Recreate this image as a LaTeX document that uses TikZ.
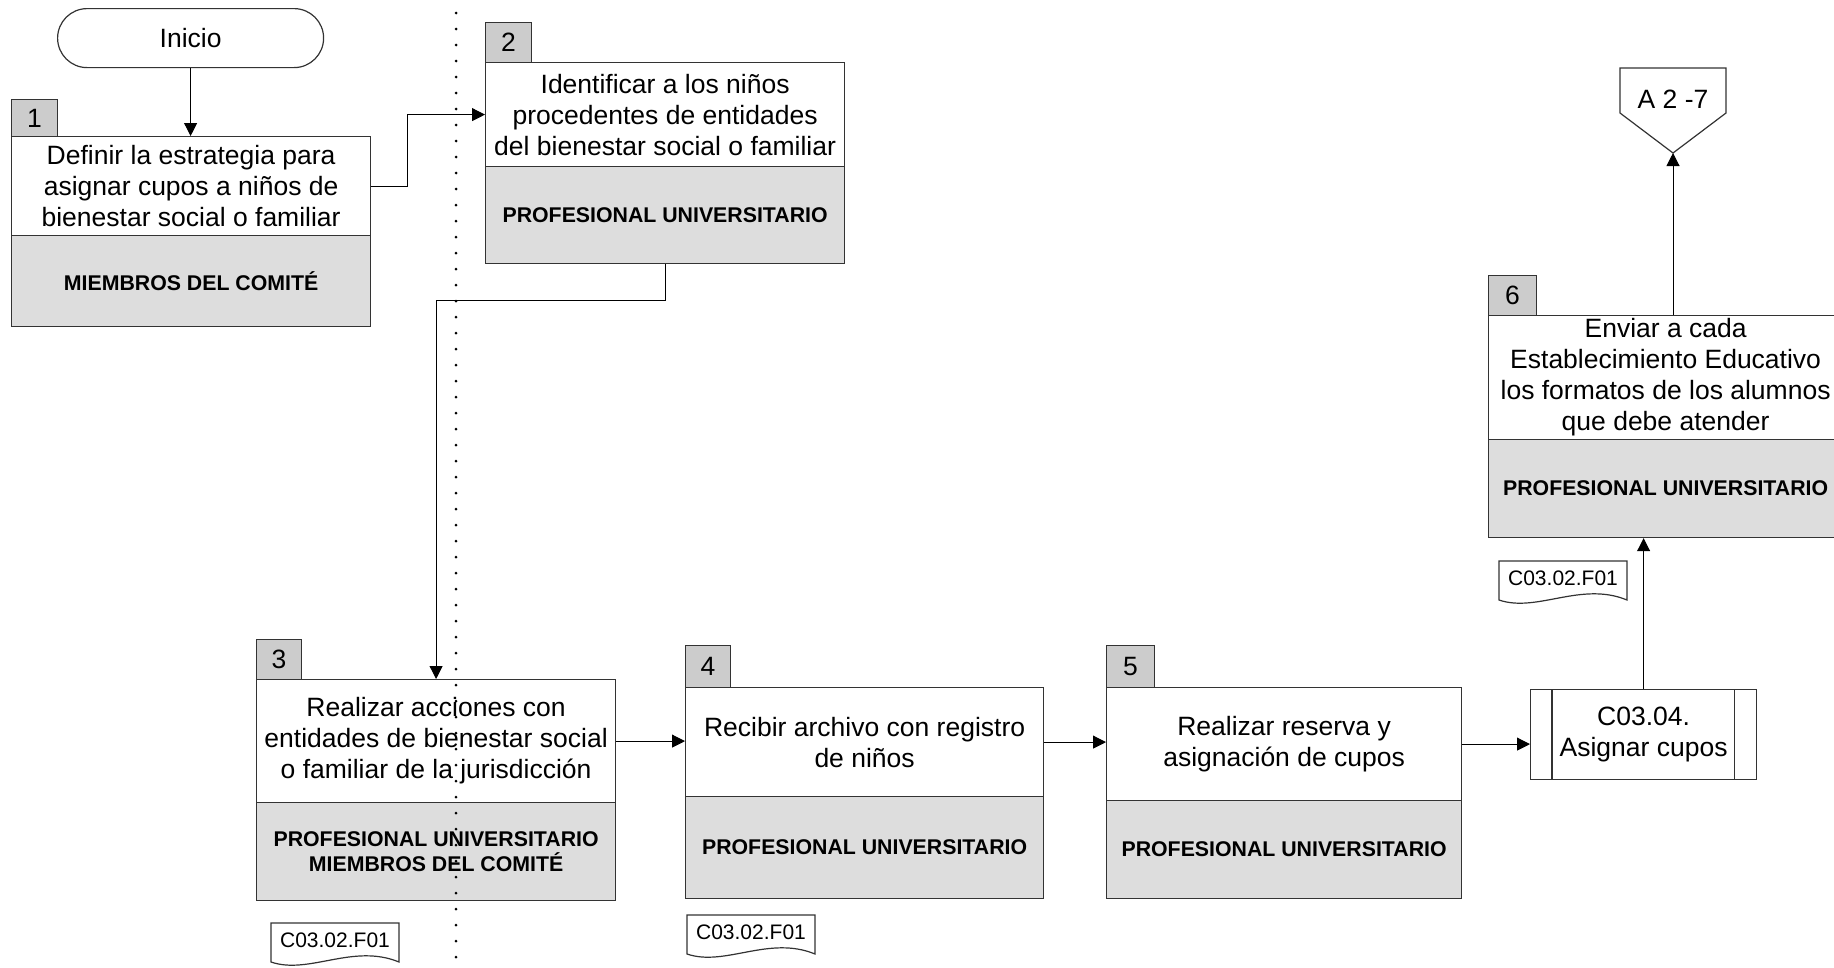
\documentclass[tikz,border=0pt]{standalone}
\usepackage{fontspec}
\setmainfont{Liberation Sans}
\usetikzlibrary{arrows.meta,calc}
\definecolor{tabgray}{HTML}{CCCCCC}
\definecolor{pangray}{HTML}{DDDDDD}
\definecolor{edgegray}{HTML}{333333}
\tikzset{
  txtbox/.style={draw=edgegray, line width=1.2pt, fill=white, inner sep=0pt, anchor=north west, align=center,
                 font=\fontsize{26.5}{31}\selectfont},
  rolebox/.style={txtbox, fill=pangray, font=\bfseries\fontsize{21.3}{25.5}\selectfont},
  tabbox/.style={draw=edgegray, line width=1.2pt, fill=tabgray, inner sep=0pt, anchor=north west,
                 font=\fontsize{26.5}{31}\selectfont},
  flow/.style={draw=black, line width=1pt, -{Triangle[length=13pt,width=13pt]}},
  plain/.style={draw=black, line width=1pt},
  docline/.style={draw=edgegray, line width=1.2pt, fill=white},
  doctext/.style={font=\fontsize{21}{25}\selectfont, inner sep=0pt},
  pics/fmtdoc/.style={code={
    \draw[docline] (0,0) -- (128,0) -- (128,39) .. controls (82,20) and (38,52) .. (0,39) -- cycle;
    \node[doctext] (-txt) at (64,17) {C03.02.F01};
  }}
}
\begin{document}
\begin{tikzpicture}[x=1pt,y=-1pt]
\useasboundingbox (0,0) rectangle (1834,967);

% Inicio
\node[draw=edgegray, line width=1.2pt, rounded corners=29.5pt, minimum width=266pt, minimum height=59pt,
      inner sep=0pt, anchor=north west, font=\fontsize{26.5}{31}\selectfont] (ini) at (57,8) {Inicio};

% Box 1
\node[tabbox, minimum width=46pt, minimum height=37pt] (t1) at (11,99) {1};
\node[txtbox, minimum width=359pt, minimum height=99pt] (b1) at (11,136)
  {Definir la estrategia para\\asignar cupos a niños de\\bienestar social o familiar};
\node[rolebox, minimum width=359pt, minimum height=91pt] (b1r) at (11,235) {MIEMBROS DEL COMITÉ};

% Box 2
\node[tabbox, minimum width=46pt, minimum height=40pt] (t2) at (485,22) {2};
\node[txtbox, minimum width=359pt, minimum height=104pt] (b2) at (485,62)
  {Identificar a los niños\\procedentes de entidades\\del bienestar social o familiar};
\node[rolebox, minimum width=359pt, minimum height=97pt] (b2r) at (485,166) {PROFESIONAL UNIVERSITARIO};

% Box 3
\node[tabbox, minimum width=45pt, minimum height=40pt] (t3) at (256,639) {3};
\node[txtbox, minimum width=359pt, minimum height=123pt] (b3) at (256,679)
  {Realizar acciones con\\entidades de bienestar social\\o familiar de la jurisdicción};
\node[rolebox, minimum width=359pt, minimum height=98pt] (b3r) at (256,802)
  {PROFESIONAL UNIVERSITARIO\\MIEMBROS DEL COMITÉ};

% Box 4
\node[tabbox, minimum width=45pt, minimum height=42pt] (t4) at (685,645) {4};
\node[txtbox, minimum width=358pt, minimum height=109pt] (b4) at (685,687)
  {Recibir archivo con registro\\de niños};
\node[rolebox, minimum width=358pt, minimum height=102pt] (b4r) at (685,796) {PROFESIONAL UNIVERSITARIO};

% Box 5
\node[tabbox, minimum width=48pt, minimum height=42pt] (t5) at (1106,645) {5};
\node[txtbox, minimum width=355pt, minimum height=113pt] (b5) at (1106,687)
  {Realizar reserva y\\asignación de cupos};
\node[rolebox, minimum width=355pt, minimum height=98pt] (b5r) at (1106,800) {PROFESIONAL UNIVERSITARIO};

% Box 6
\node[tabbox, minimum width=48pt, minimum height=40pt] (t6) at (1488,275) {6};
\node[txtbox, minimum width=354pt, minimum height=124pt] (b6) at (1488,315)
  {Enviar a cada\\Establecimiento Educativo\\los formatos de los alumnos\\que debe atender};
\node[rolebox, minimum width=354pt, minimum height=98pt] (b6r) at (1488,439) {PROFESIONAL UNIVERSITARIO};

% Subprocess
\node[txtbox, minimum width=226pt, minimum height=90pt] (sub) at (1530,689) {C03.04.\\Asignar cupos};
\draw[draw=edgegray, line width=1.2pt] ([xshift=22pt]sub.north west) -- ([xshift=22pt]sub.south west);
\draw[draw=edgegray, line width=1.2pt] ([xshift=-23pt]sub.north east) -- ([xshift=-23pt]sub.south east);

% Off-page connector
\draw[draw=edgegray, line width=1.2pt, fill=white] (1620,68) -- (1726,68) -- (1726,113) -- (1673,153) -- (1620,113) -- cycle;
\node[font=\fontsize{26.5}{31}\selectfont, inner sep=0pt] (a27) at (1673,99) {A 2 -7};
\coordinate (a27tip) at (1673,153);

% Documents
\pic (d3) at (271,923) {fmtdoc};
\pic (d4) at (687,915) {fmtdoc};
\pic (d6) at (1499,561) {fmtdoc};

% Connectors
\draw[flow] (ini.south) -- (ini.south |- b1.north);
\draw[flow] (b1.east) -- ++(36,0) |- (b2.west);
\draw[flow] (b2r.south) -- ++(0,36) -| (b3.north);
\draw[flow] (b3.east) -- (b3.east -| b4.west);
\draw[flow] (b4.east) -- (b4.east -| b5.west);
\draw[flow] (b5.east) -- (b5.east -| sub.west);
\draw[flow] (sub.north) -- (sub.north |- b6r.south);
\draw[flow] (b6.north -| a27tip) -- (a27tip);

% Dotted separator
\draw[line width=3pt, line cap=round, dash pattern=on 0pt off 16pt, draw=black] (456,13) -- (456,967);
\end{tikzpicture}
\end{document}
